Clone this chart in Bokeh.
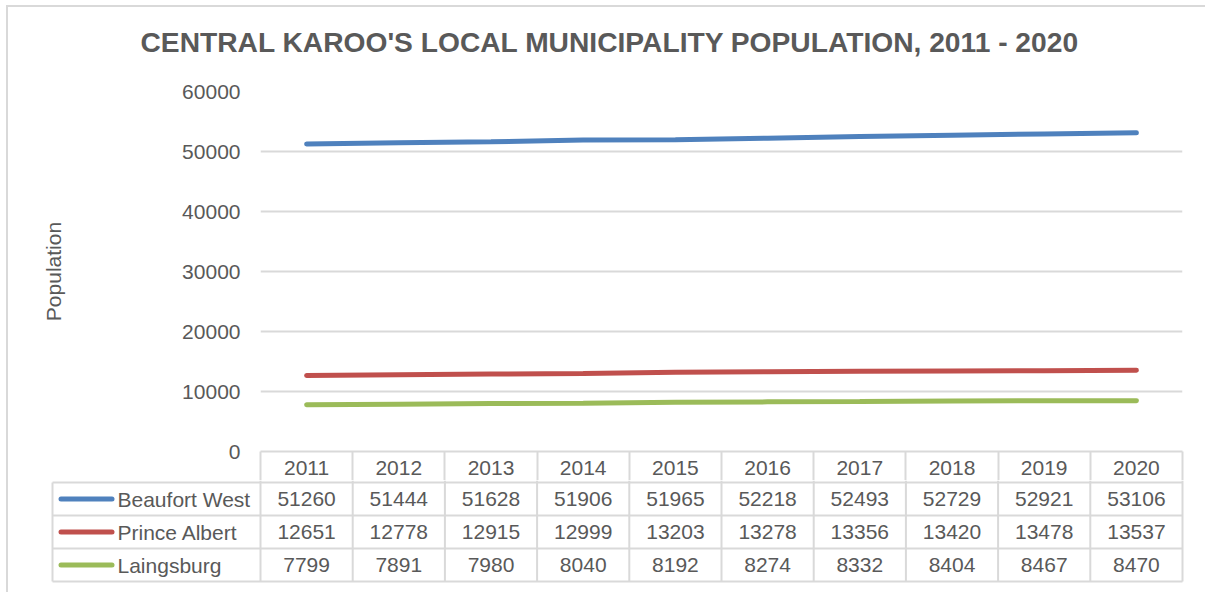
from bokeh.plotting import figure
from bokeh.models import Range1d, FixedTicker, Title
from bokeh.layouts import column
from bokeh.core.properties import value
from bokeh.embed import file_html
from bokeh.resources import INLINE

# ---------------- data ----------------
years = [2011, 2012, 2013, 2014, 2015, 2016, 2017, 2018, 2019, 2020]
beaufort_west = [51260, 51444, 51628, 51906, 51965, 52218, 52493, 52729, 52921, 53106]
prince_albert = [12651, 12778, 12915, 12999, 13203, 13278, 13356, 13420, 13478, 13537]
laingsburg = [7799, 7891, 7980, 8040, 8192, 8274, 8332, 8404, 8467, 8470]
series_names = ["Beaufort West", "Prince Albert", "Laingsburg"]
series_colors = ["#4F81BD", "#C0504D", "#9BBB59"]
y_ticks = [0, 10000, 20000, 30000, 40000, 50000, 60000]
title_text = "CENTRAL KAROO'S LOCAL MUNICIPALITY POPULATION, 2011 - 2020"

series_values = [beaufort_west, prince_albert, laingsburg]

# ---------------- layout constants (page pixels) ----------------
FONT = "Liberation Sans"
TXT = "#595959"
GRID = "#D9D9D9"
W = 1205
FRAME_L, FRAME_R = 260, 1182
FRAME_T, ZERO_Y, HDR_B = 91, 451, 480
PX_PER_YEAR = (FRAME_R - FRAME_L) / len(years)
X0 = years[0] - 0.5
X1 = years[-1] + 0.5
col_edges = [X0 + k for k in range(len(years) + 1)]


def xs(px):
    """page x pixel -> year units"""
    return X0 + (px - FRAME_L) / PX_PER_YEAR


# ---------------- chart figure (plot area; x-axis = table header row) ----------------
p = figure(width=W, height=HDR_B, output_backend="svg", toolbar_location=None,
           x_range=Range1d(X0, X1), y_range=Range1d(0, 60000),
           min_border_left=FRAME_L, min_border_right=W - FRAME_R,
           min_border_top=FRAME_T, min_border_bottom=HDR_B - ZERO_Y, frame_align=False)
p.outline_line_color = None
p.border_fill_alpha = 0
p.background_fill_alpha = 0
p.xgrid.visible = False
p.ygrid.grid_line_color = GRID
p.ygrid.grid_line_width = 2

p.yaxis.ticker = FixedTicker(ticks=y_ticks)
p.yaxis.axis_line_color = None
p.yaxis.major_tick_line_color = None
p.yaxis.minor_tick_line_color = None
p.yaxis.major_tick_out = 0
p.yaxis.major_label_standoff = 20
p.yaxis.major_label_text_font = FONT
p.yaxis.major_label_text_font_size = "21px"
p.yaxis.major_label_text_color = TXT
p.yaxis.axis_label = "Population"
p.yaxis.axis_label_text_font = FONT
p.yaxis.axis_label_text_font_size = "21px"
p.yaxis.axis_label_text_font_style = "normal"
p.yaxis.axis_label_text_color = TXT
p.yaxis.axis_label_standoff = 114

p.xaxis.ticker = FixedTicker(ticks=years, minor_ticks=col_edges)
p.xaxis.axis_line_color = GRID
p.xaxis.axis_line_width = 2
p.xaxis.major_tick_line_color = None
p.xaxis.major_tick_out = 0
p.xaxis.major_tick_in = 0
p.xaxis.minor_tick_line_color = GRID
p.xaxis.minor_tick_line_width = 2
p.xaxis.minor_tick_out = HDR_B - ZERO_Y
p.xaxis.minor_tick_in = 0
p.xaxis.major_label_standoff = -20
p.xaxis.major_label_text_font = FONT
p.xaxis.major_label_text_font_size = "21px"
p.xaxis.major_label_text_color = TXT

# spacer (closest to the frame) then the real title above it
p.add_layout(Title(text=" ", text_font_size="10px", standoff=16), "above")
p.add_layout(Title(text=title_text, align="left", offset=140 - FRAME_L,
                   text_font=FONT, text_font_size="28.2px", text_font_style="bold",
                   text_color=TXT, standoff=10), "above")

for vals, col in zip(series_values, series_colors):
    p.line(years, vals, line_width=5, line_color=col, line_cap="round")

# ---------------- data table rows ----------------
hB = 592 - HDR_B
t = figure(width=W, height=hB, output_backend="svg", toolbar_location=None,
           x_range=Range1d(xs(0), xs(W)), y_range=Range1d(hB, 0),
           min_border_left=0, min_border_right=0, min_border_top=0, min_border_bottom=0,
           frame_align=False)
t.outline_line_color = None
t.border_fill_alpha = 0
t.background_fill_alpha = 0
t.axis.visible = False
t.grid.visible = False

row_lines = [2, 35, 68, 101]
row_centers = [18.5, 51.5, 84.5]
table_left = xs(52)

t.segment(x0=[table_left] * len(row_lines), y0=row_lines, x1=[X1] * len(row_lines), y1=row_lines,
          line_color=GRID, line_width=2)
t.segment(x0=col_edges, y0=[0] * len(col_edges), x1=col_edges, y1=[row_lines[-1]] * len(col_edges),
          line_color=GRID, line_width=2)
t.segment(x0=[table_left], y0=[row_lines[0]], x1=[table_left], y1=[row_lines[-1]],
          line_color=GRID, line_width=2)

for vals, name, col, yc in zip(series_values, series_names, series_colors, row_centers):
    t.text(x=years, y=[yc] * len(years), text=[str(v) for v in vals],
           text_align="center", text_baseline="middle", text_font=value(FONT),
           text_font_size="21px", text_color=TXT)
    t.segment(x0=[xs(60.5)], y0=[yc], x1=[xs(111.5)], y1=[yc], line_color=col,
              line_width=5, line_cap="round")
    t.text(x=[xs(117)], y=[yc], text=[name],
           text_align="left", text_baseline="middle", text_font=value(FONT),
           text_font_size="21px", text_color=TXT)

bg = ("linear-gradient(#D9D9D9,#D9D9D9) 6px 5px / 2px 100% no-repeat, "
      "linear-gradient(#D9D9D9,#D9D9D9) 6px 5px / 100% 2px no-repeat, #FFFFFF")
layout = column(p, t, spacing=0, styles={"background": bg})

open("out.html", "w").write(file_html(layout, INLINE))
